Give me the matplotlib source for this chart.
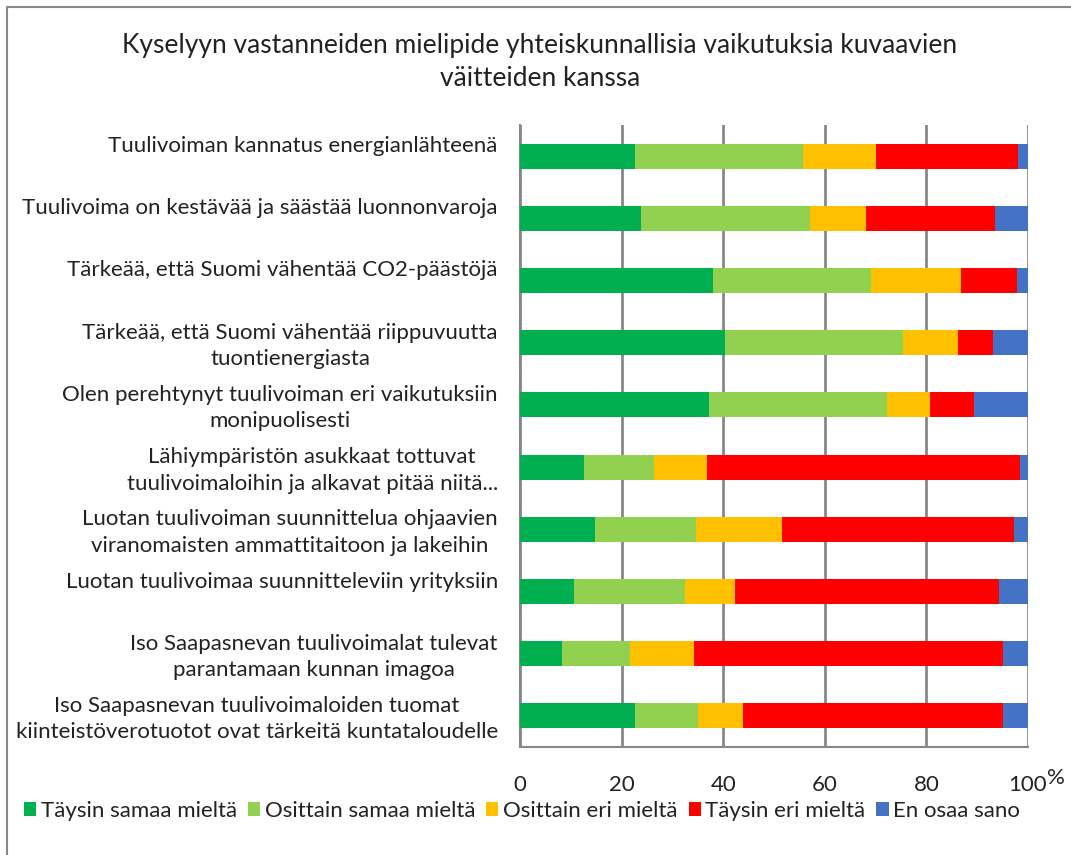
import matplotlib
matplotlib.use("Agg")
import matplotlib.pyplot as plt
from matplotlib.lines import Line2D
from matplotlib.patches import Patch
from matplotlib.transforms import ScaledTranslation
import numpy as np

title = "Kyselyyn vastanneiden mielipide yhteiskunnallisia vaikutuksia kuvaavien\nväitteiden kanssa"

categories = [
    "Tuulivoiman kannatus energianlähteenä",
    "Tuulivoima on kestävää ja säästää luonnonvaroja",
    "Tärkeää, että Suomi vähentää CO2-päästöjä",
    "Tärkeää, että Suomi vähentää riippuvuutta\ntuontienergiasta",
    "Olen perehtynyt tuulivoiman eri vaikutuksiin\nmonipuolisesti",
    "Lähiympäristön asukkaat tottuvat\ntuulivoimaloihin ja alkavat pitää niitä...",
    "Luotan tuulivoiman suunnittelua ohjaavien\nviranomaisten ammattitaitoon ja lakeihin",
    "Luotan tuulivoimaa suunnitteleviin yrityksiin",
    "Iso Saapasnevan tuulivoimalat tulevat\nparantamaan kunnan imagoa",
    "Iso Saapasnevan tuulivoimaloiden tuomat\nkiinteistöverotuotot ovat tärkeitä kuntataloudelle",
]

series_names = ["Täysin samaa mieltä", "Osittain samaa mieltä", "Osittain eri mieltä",
                "Täysin eri mieltä", "En osaa sano"]

taysin_samaa = [22.7, 23.8, 38.0, 40.4, 37.3, 12.5, 14.7, 10.7, 8.2, 22.7]
osittain_samaa = [33.1, 33.3, 31.1, 35.0, 34.9, 13.9, 19.9, 21.7, 13.5, 12.3]
osittain_eri = [14.2, 11.1, 17.7, 10.8, 8.6, 10.4, 16.9, 9.9, 12.6, 8.8]
taysin_eri = [28.0, 25.3, 11.1, 7.0, 8.6, 61.7, 45.8, 51.9, 60.7, 51.2]
en_osaa = [2.0, 6.5, 2.1, 6.8, 10.6, 1.5, 2.7, 5.8, 5.0, 5.0]

colors = ["#00B050", "#92D050", "#FFC000", "#FF0000", "#4472C4"]
xticks = [0, 20, 40, 60, 80, 100]

FONT = ["Lato", "DejaVu Sans"]
plt.rcParams["font.family"] = FONT
FS = 16.0

W, H = 1071, 855
fig = plt.figure(figsize=(W / 100, H / 100), dpi=100)
ax = fig.add_axes([520 / W, 1 - 747 / H, (1028 - 520) / W, (747 - 125) / H])

data = [taysin_samaa, osittain_samaa, osittain_eri, taysin_eri, en_osaa]
y = np.arange(len(categories))
left = np.zeros(len(categories))
for vals, c, name in zip(data, colors, series_names):
    vals = np.array(vals)
    ax.barh(y, vals, left=left, height=0.4, color=c, label=name, zorder=3)
    left += vals

ax.set_xlim(0, 100)
ax.set_ylim(len(categories) - 0.5, -0.5)
ax.set_xticks(xticks)
ax.set_xticklabels([str(t) for t in xticks], fontsize=FS, color="#222222")
ax.tick_params(axis="x", length=0, pad=20)
ax.set_yticks(y)
labels = [c if "\n" in c else c + "\n" for c in categories]
ax.set_yticklabels(labels, fontsize=FS, color="#222222", multialignment="center")
ax.tick_params(axis="y", length=0, pad=16)
shift = ScaledTranslation(0, 2 / 100, fig.dpi_scale_trans)
for lbl, c in zip(ax.get_yticklabels(), categories):
    lbl.set_linespacing(1.4 if "\n" in c else 2.1)
    lbl.set_transform(lbl.get_transform() + shift)
ax.xaxis.grid(True, color="#888888", linewidth=2, zorder=0)
for s in ["top", "right"]:
    ax.spines[s].set_visible(False)
for s in ["left", "bottom"]:
    ax.spines[s].set_color("#888888")
    ax.spines[s].set_linewidth(1.5)

fig.text(1047 / W, 1 - 778 / H, "%", fontsize=FS, color="#222222", ha="left", va="center")

fig.text(540 / W, 1 - 62 / H, title, fontsize=19, ha="center", va="center",
         color="#222222", linespacing=1.35)

handles = [Patch(facecolor=c, edgecolor="none") for c in colors]
fig.legend(handles, series_names, loc="center", bbox_to_anchor=(522 / W, 1 - 811 / H),
           ncol=5, frameon=False, fontsize=FS, handlelength=0.55, handleheight=0.55,
           handletextpad=0.2, columnspacing=0.5, labelcolor="#222222")

bx = 7 / W
by = 1 - 7 / H
fig.add_artist(Line2D([bx, bx, 1.0], [0.0, by, by], transform=fig.transFigure,
                      color="#888888", linewidth=1.5))

fig.savefig("out.png", dpi=100)
